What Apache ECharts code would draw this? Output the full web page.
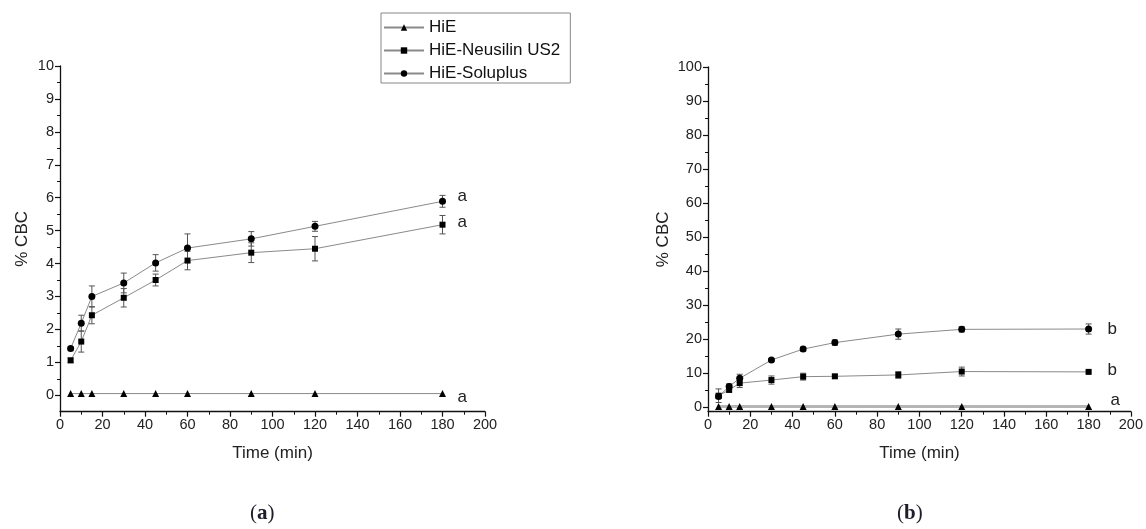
<!DOCTYPE html>
<html>
<head>
<meta charset="utf-8">
<script src="https://cdn.jsdelivr.net/npm/echarts@6/dist/echarts.min.js"></script>
<style>
html,body{margin:0;padding:0;background:#fff;}
#c{width:1146px;height:529px;}
</style>
</head>
<body>
<div id="c"></div>
<script>
// ---- data ----
var times = [5, 10, 15, 30, 45, 60, 90, 120, 180];
var seriesNames = ['HiE', 'HiE-Neusilin US2', 'HiE-Soluplus'];
// panel (a)
var hieA    = [0.05, 0.05, 0.05, 0.05, 0.05, 0.05, 0.05, 0.05, 0.05];
var neuA    = [1.06, 1.63, 2.43, 2.96, 3.50, 4.09, 4.33, 4.45, 5.18];
var neuErrA = [0.07, 0.32, 0.26, 0.28, 0.18, 0.28, 0.30, 0.37, 0.28];
var solA    = [1.42, 2.19, 3.00, 3.41, 4.02, 4.47, 4.75, 5.13, 5.89];
var solErrA = [0.05, 0.24, 0.32, 0.30, 0.25, 0.43, 0.22, 0.15, 0.18];
// panel (b)
var hieB    = [0.2, 0.2, 0.2, 0.2, 0.2, 0.2, 0.2, 0.2, 0.2];
var neuB    = [3.4, 5.1, 7.1, 8.0, 9.0, 9.1, 9.5, 10.5, 10.4];
var neuErrB = [2.0, 0.6, 1.3, 1.2, 1.0, 0.5, 1.0, 1.3, 0.3];
var solB    = [3.2, 6.1, 8.5, 13.9, 17.1, 19.0, 21.5, 22.9, 23.0];
var solErrB = [0.5, 0.8, 1.2, 0.4, 0.6, 0.8, 1.5, 0.8, 1.5];
// letters at the end of each curve
var lettersA = ['a', 'a', 'a'];
var lettersB = ['a', 'b', 'b'];
// axis ticks
var xTicks = [0, 20, 40, 60, 80, 100, 120, 140, 160, 180, 200];
var yTicksA = [0, 1, 2, 3, 4, 5, 6, 7, 8, 9, 10];
var yMinorA = [0.5, 1.5, 2.5, 3.5, 4.5, 5.5, 6.5, 7.5, 8.5, 9.5];
var yTicksB = [0, 10, 20, 30, 40, 50, 60, 70, 80, 90, 100];
var yMinorB = [5, 15, 25, 35, 45, 55, 65, 75, 85, 95];
var captionLetters = ['a', 'b'];

// ---- helpers ----
function pairs(vals) { return times.map(function (t, i) { return [t, vals[i]]; }); }
function triples(vals, errs) { return times.map(function (t, i) { return [t, vals[i], errs[i]]; }); }

var FONT = 'Liberation Sans, Arial, sans-serif';
var symbols = ['triangle', 'rect', 'circle'];
var symSizes = [7, 6, 7];

function xAxisCfg(gi) {
  return {
    gridIndex: gi, type: 'value', min: 0, max: 200, interval: 20,
    name: 'Time (min)', nameLocation: 'middle', nameGap: 33,
    nameTextStyle: { fontFamily: FONT, fontSize: 17, color: '#222' },
    axisLine: { show: true, onZero: false, lineStyle: { color: '#111', width: 1.3 } },
    axisTick: { show: true, length: 5, lineStyle: { color: '#111', width: 1.2 } },
    minorTick: { show: true, splitNumber: 2, length: 3, lineStyle: { color: '#111', width: 1 } },
    axisLabel: { fontFamily: FONT, fontSize: 14.5, color: '#222', margin: 6 },
    splitLine: { show: false }
  };
}
function yAxisCfg(gi, min, max, ticks, gap) {
  return {
    gridIndex: gi, type: 'value', min: min, max: max, position: 'left',
    name: '% CBC', nameLocation: 'middle', nameGap: gap,
    nameTextStyle: { fontFamily: FONT, fontSize: 17, color: '#222' },
    axisLine: { show: true, onZero: false, lineStyle: { color: '#111', width: 1.3 } },
    axisTick: { show: true, length: 5, customValues: ticks, lineStyle: { color: '#111', width: 1.2 } },
    axisLabel: { fontFamily: FONT, fontSize: 14.5, color: '#222', margin: 6, customValues: ticks },
    splitLine: { show: false }
  };
}
function yMinorCfg(gi, min, max, ticks) {
  return {
    gridIndex: gi, type: 'value', min: min, max: max, position: 'left', offset: 0,
    axisLine: { show: false },
    axisTick: { show: true, length: 3, customValues: ticks, lineStyle: { color: '#111', width: 1 } },
    axisLabel: { show: false },
    splitLine: { show: false }
  };
}

function errSeries(xi, yi, vals, errs) {
  return {
    type: 'custom', xAxisIndex: xi, yAxisIndex: yi, z: 1, silent: true,
    data: triples(vals, errs),
    renderItem: function (params, api) {
      var x = api.value(0), y = api.value(1), e = api.value(2);
      var top = api.coord([x, y + e]);
      var bot = api.coord([x, y - e]);
      var w = 3;
      var st = { stroke: '#555', lineWidth: 1 };
      return {
        type: 'group',
        children: [
          { type: 'line', shape: { x1: top[0], y1: top[1], x2: bot[0], y2: bot[1] }, style: st },
          { type: 'line', shape: { x1: top[0] - w, y1: top[1], x2: top[0] + w, y2: top[1] }, style: st },
          { type: 'line', shape: { x1: bot[0] - w, y1: bot[1], x2: bot[0] + w, y2: bot[1] }, style: st }
        ]
      };
    }
  };
}

function lineSeries(k, xi, yi, vals, letter, offset, lineW, lineC) {
  return {
    name: seriesNames[k], type: 'line', xAxisIndex: xi, yAxisIndex: yi, z: 3,
    data: pairs(vals),
    symbol: symbols[k], symbolSize: symSizes[k], showAllSymbol: true,
    itemStyle: { color: '#000' },
    lineStyle: { color: lineC || '#8a8a8a', width: lineW || 1 },
    emphasis: { disabled: true },
    animation: false,
    endLabel: {
      show: true, formatter: letter, distance: 12, offset: offset,
      fontFamily: FONT, fontSize: 17, color: '#222'
    }
  };
}

function caption(letter, left) {
  return {
    type: 'text', left: left, top: 503,
    style: {
      text: '{p|(}{l|' + letter + '}{p|)}',
      rich: {
        p: { font: '21px "Liberation Serif", serif', fill: '#1d1d2b' },
        l: { font: 'bold 21px "Liberation Serif", serif', fill: '#1d1d2b' }
      }
    }
  };
}

var option = {
  animation: false,
  backgroundColor: '#fff',
  grid: [
    { left: 60, top: 66, width: 425, height: 345.7 },
    { left: 708, top: 67, width: 425, height: 344.7 }
  ],
  legend: {
    data: seriesNames,
    orient: 'vertical', left: 381, top: 13,
    itemWidth: 40, itemHeight: 8, itemGap: 6,
    padding: [6, 10, 1, 2],
    borderColor: '#888', borderWidth: 1,
    textStyle: { fontFamily: FONT, fontSize: 17, color: '#111', lineHeight: 16 },
    selectedMode: false
  },
  xAxis: [xAxisCfg(0), xAxisCfg(1)],
  yAxis: [
    yAxisCfg(0, -0.5, 10, yTicksA, 29),
    yMinorCfg(0, -0.5, 10, yMinorA),
    yAxisCfg(1, -1.3, 100, yTicksB, 36),
    yMinorCfg(1, -1.3, 100, yMinorB)
  ],
  series: [
    errSeries(0, 0, neuA, neuErrA),
    errSeries(0, 0, solA, solErrA),
    lineSeries(0, 0, 0, hieA, lettersA[0], [3, 4]),
    lineSeries(1, 0, 0, neuA, lettersA[1], [3, -2]),
    lineSeries(2, 0, 0, solA, lettersA[2], [3, -5]),
    errSeries(1, 2, neuB, neuErrB),
    errSeries(1, 2, solB, solErrB),
    lineSeries(0, 1, 2, hieB, lettersB[0], [10, -6], 3, '#b5b5b5'),
    lineSeries(1, 1, 2, neuB, lettersB[1], [7, -2]),
    lineSeries(2, 1, 2, solB, lettersB[2], [7, 0])
  ],
  graphic: [caption(captionLetters[0], 250), caption(captionLetters[1], 897)]
};

var chart = echarts.init(document.getElementById('c'), null, { renderer: 'canvas' });
chart.setOption(option);
</script>
</body>
</html>
